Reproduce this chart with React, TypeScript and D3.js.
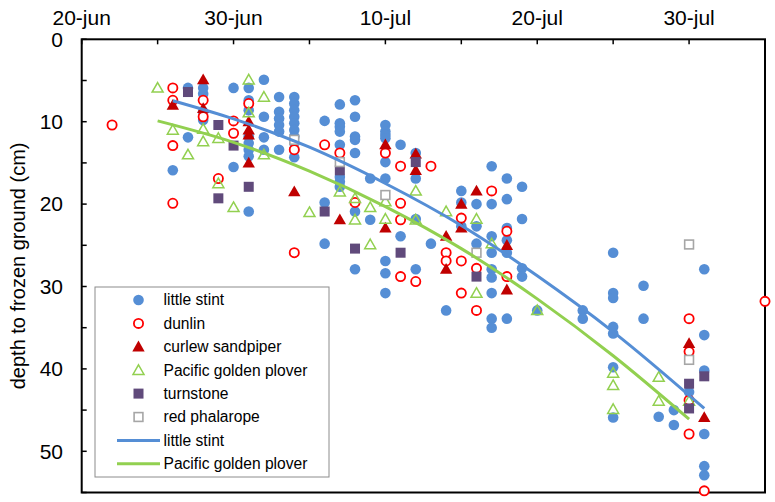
import React from 'react';
import * as d3 from 'd3';

const W = 775;
const H = 502;
const FONT = '"Liberation Sans", Arial, sans-serif';

// x domain (dates, day-month), y domain (cm)
const xDomain = ['06-20', '08-04'];
const yDomain = [0, 55];
const xMajorTicks = ['06-20', '06-30', '07-10', '07-20', '07-30'];
const xMinorStepDays = 5;
const yMajorTicks = [0, 10, 20, 30, 40, 50];
const yMinorStep = 5;

// [date, depths (cm)]
const littleStint: [string, number[]][] = [
  ['06-26', [15.9]],
  ['06-27', [5.9, 11.9]],
  ['06-28', [5.9, 6.6, 8.8, 9.8]],
  ['06-30', [5.9, 15.5]],
  ['07-01', [5.9, 7.4, 8.6, 11.8, 12.6, 13.4, 14.2, 20.9]],
  ['07-02', [4.9, 9.4, 11.9, 13.4]],
  ['07-03', [7.0, 8.8, 9.6, 10.4, 11.2, 13.4]],
  ['07-04', [7.0, 7.8, 8.6, 9.4, 10.2, 11.0, 11.8, 12.6, 13.4, 14.3]],
  ['07-06', [9.9, 19.8, 24.8]],
  ['07-07', [7.9, 10.2, 10.6, 11.2, 12.8, 16.7, 17.3, 17.9]],
  ['07-08', [7.4, 9.4, 11.8, 12.2, 13.8, 20.9, 27.9]],
  ['07-09', [16.9, 21.9]],
  ['07-10', [10.4, 11.2, 11.6, 12.0, 14.9, 16.9, 26.9, 28.4, 30.8]],
  ['07-11', [12.8, 23.9]],
  ['07-12', [13.8, 16.9, 21.8, 27.9]],
  ['07-13', [24.8]],
  ['07-14', [32.9]],
  ['07-15', [18.4, 19.8, 22.7]],
  ['07-16', [20.0, 22.7, 24.8]],
  ['07-17', [15.4, 20.0, 23.9, 25.9, 27.9, 28.9, 30.8, 33.9, 35.0]],
  ['07-18', [16.9, 19.4, 22.9, 24.4, 25.9, 33.9]],
  ['07-19', [17.9, 21.8, 27.8, 28.8]],
  ['07-20', [32.9]],
  ['07-23', [32.9, 33.9]],
  ['07-25', [25.9, 30.8, 31.4, 34.9, 35.7, 39.8, 45.9]],
  ['07-27', [29.9, 33.9]],
  ['07-28', [45.8]],
  ['07-29', [45.0, 46.8]],
  ['07-30', [42.8]],
  ['07-31', [27.9, 35.9, 40.2, 47.9, 51.8, 52.9]],
];

const dunlin: [string, number[]][] = [
  ['06-22', [10.4]],
  ['06-26', [5.9, 7.4, 12.9, 19.9]],
  ['06-28', [7.4, 9.4]],
  ['06-29', [16.9]],
  ['06-30', [9.9, 11.4]],
  ['07-01', [7.8]],
  ['07-04', [13.4, 25.9]],
  ['07-06', [12.8]],
  ['07-07', [13.8]],
  ['07-08', [19.8]],
  ['07-10', [13.8]],
  ['07-11', [15.4, 19.9, 21.9, 28.8]],
  ['07-12', [29.4]],
  ['07-13', [15.4]],
  ['07-14', [25.9, 26.9]],
  ['07-15', [21.7, 26.9, 30.8]],
  ['07-16', [27.8, 32.9]],
  ['07-17', [18.4]],
  ['07-18', [23.3, 28.8]],
  ['07-30', [33.9, 37.9, 43.8, 47.9]],
  ['07-31', [54.8]],
  ['08-04', [31.8]],
];

const curlewSandpiper: [string, number[]][] = [
  ['06-26', [8.0]],
  ['06-28', [4.9, 8.4]],
  ['07-01', [10.0, 11.0, 11.6, 15.0]],
  ['07-04', [18.5]],
  ['07-07', [21.9]],
  ['07-10', [12.8, 22.9]],
  ['07-12', [13.9, 15.9]],
  ['07-14', [23.9, 27.9]],
  ['07-15', [20.0, 22.9]],
  ['07-16', [18.4]],
  ['07-18', [25.0, 30.4]],
  ['07-30', [36.9]],
  ['07-31', [45.9]],
];

const pacificGoldenPlover: [string, number[]][] = [
  ['06-25', [5.9]],
  ['06-26', [11.0]],
  ['06-27', [14.0]],
  ['06-28', [10.9, 12.4]],
  ['06-29', [12.0, 17.5]],
  ['06-30', [20.4]],
  ['07-01', [4.9, 8.9]],
  ['07-02', [7.0, 14.0]],
  ['07-05', [21.0]],
  ['07-07', [18.5]],
  ['07-08', [19.3, 21.9]],
  ['07-09', [20.4, 24.9]],
  ['07-10', [19.7, 21.8]],
  ['07-12', [18.4, 21.9]],
  ['07-14', [20.9]],
  ['07-16', [21.8, 30.8]],
  ['07-17', [24.8]],
  ['07-20', [32.9]],
  ['07-25', [40.5, 42.0, 44.9]],
  ['07-28', [41.0, 43.9]],
  ['07-30', [43.9]],
];

const turnstone: [string, number[]][] = [
  ['06-27', [6.4]],
  ['06-29', [10.4, 19.3]],
  ['06-30', [12.9]],
  ['07-01', [17.9]],
  ['07-06', [20.9]],
  ['07-07', [15.9]],
  ['07-08', [25.4]],
  ['07-11', [25.9]],
  ['07-12', [14.9]],
  ['07-16', [28.8]],
  ['07-30', [41.8, 44.8]],
  ['07-31', [40.9]],
];

const redPhalarope: [string, number[]][] = [
  ['07-04', [12.2]],
  ['07-07', [14.9]],
  ['07-10', [18.9]],
  ['07-16', [25.9]],
  ['07-30', [24.9, 38.9]],
];

// fitted curves
const littleStintLine: [string, number][] = [
  ['06-26', 7.45], ['06-30', 9.65], ['07-05', 13.1], ['07-10', 17.5],
  ['07-15', 22.6], ['07-20', 28.7], ['07-25', 35.5], ['07-31', 44.8],
];
const ploverLine: [string, number][] = [
  ['06-25', 9.9], ['06-30', 12.5], ['07-05', 16.0], ['07-10', 20.3],
  ['07-15', 25.4], ['07-20', 31.5], ['07-25', 38.4], ['07-30', 46.1],
];

const seriesNames = [
  'little stint', 'dunlin', 'curlew sandpiper', 'Pacific golden plover',
  'turnstone', 'red phalarope', 'little stint', 'Pacific golden plover',
];

const BLUE = '#558ED5';
const RED = '#FF0000';
const DARKRED = '#C00000';
const GREEN = '#92D050';
const PURPLE = '#604A7B';
const GRAY = '#A6A6A6';

type Kind = 'circle' | 'ocircle' | 'tri' | 'otri' | 'square' | 'osquare' | 'line';

const parse = d3.timeParse('%Y-%m-%d');
const toDate = (s: string) => parse('2013-' + s) as Date;

const Marker = ({ kind, cx, cy, color }: { kind: Kind; cx: number; cy: number; color: string }) => {
  switch (kind) {
    case 'circle':
      return <circle cx={cx} cy={cy} r={5.3} fill={color} />;
    case 'ocircle':
      return <circle cx={cx} cy={cy} r={4.6} fill="white" stroke={color} strokeWidth={1.8} />;
    case 'tri':
      return <path d={`M${cx},${cy - 6.2}L${cx + 6.2},${cy + 4.6}L${cx - 6.2},${cy + 4.6}Z`} fill={color} />;
    case 'otri':
      return (
        <path d={`M${cx},${cy - 5.4}L${cx + 5.5},${cy + 4.2}L${cx - 5.5},${cy + 4.2}Z`} fill="none" stroke={color} strokeWidth={1.5} />
      );
    case 'square':
      return <rect x={cx - 5} y={cy - 5} width={10} height={10} fill={color} />;
    case 'osquare':
      return <rect x={cx - 4.4} y={cy - 4.4} width={8.8} height={8.8} fill="white" stroke={color} strokeWidth={1.6} />;
    default:
      return null;
  }
};

export default function App() {
  const left = 81.7, right = 765, top = 39.3, bottom = 492.5;
  const x = d3.scaleTime().domain(xDomain.map(toDate)).range([left, right]);
  const y = d3.scaleLinear().domain(yDomain).range([top, bottom]);

  const flatten = (data: [string, number[]][]) =>
    data.flatMap(([d, vals]) => vals.map((v) => ({ date: toDate(d), v })));

  const pointSeries: { data: [string, number[]][]; kind: Kind; color: string }[] = [
    { data: littleStint, kind: 'circle', color: BLUE },
    { data: dunlin, kind: 'ocircle', color: RED },
    { data: curlewSandpiper, kind: 'tri', color: DARKRED },
    { data: pacificGoldenPlover, kind: 'otri', color: GREEN },
    { data: turnstone, kind: 'square', color: PURPLE },
    { data: redPhalarope, kind: 'osquare', color: GRAY },
  ];

  const line = d3
    .line<[string, number]>()
    .x((d) => x(toDate(d[0])))
    .y((d) => y(d[1]))
    .curve(d3.curveMonotoneX);

  const start = toDate(xDomain[0]);
  const end = toDate(xDomain[1]);
  const nDays = d3.timeDay.count(start, end);
  const xTicks = d3.range(0, nDays + 1, xMinorStepDays).map((k) => d3.timeDay.offset(start, k));
  const yTicks = d3.range(yDomain[0], yDomain[1] + 0.01, yMinorStep);
  const fmt = (d: Date) => d3.timeFormat('%-d-%b')(d).toLowerCase();

  const legendKinds: { kind: Kind; color: string }[] = [
    { kind: 'circle', color: BLUE },
    { kind: 'ocircle', color: RED },
    { kind: 'tri', color: DARKRED },
    { kind: 'otri', color: GREEN },
    { kind: 'square', color: PURPLE },
    { kind: 'osquare', color: GRAY },
    { kind: 'line', color: BLUE },
    { kind: 'line', color: GREEN },
  ];

  const lgX = 95, lgY = 287, lgW = 234, lgH = 190, rowH = 23.4, row0 = 300;

  return (
    <svg
      width={W}
      height={H}
      style={{ position: 'absolute', left: 0, top: 0, background: 'white' }}
      fontFamily={FONT}
    >
      <rect x={0} y={0} width={W} height={H} fill="white" />
      {/* plot frame */}
      <rect x={left} y={top} width={right - left} height={bottom - top} fill="white" stroke="black" strokeWidth={2} />
      {/* x ticks (inward) */}
      {xTicks.map((t, i) => (
        <line key={'xt' + i} x1={x(t)} x2={x(t)} y1={top} y2={top + 5} stroke="black" strokeWidth={1.5} />
      ))}
      {xMajorTicks.map((s) => (
        <text key={'xl' + s} x={x(toDate(s))} y={25} textAnchor="middle" fontSize={21} fill="black">
          {fmt(toDate(s))}
        </text>
      ))}
      {/* y ticks (inward) */}
      {yTicks.map((t, i) => (
        <line key={'yt' + i} x1={left} x2={left + 5} y1={y(t)} y2={y(t)} stroke="black" strokeWidth={1.5} />
      ))}
      {yMajorTicks.map((t) => (
        <text key={'yl' + t} x={63} y={y(t)} dy="0.35em" textAnchor="end" fontSize={21} fill="black">
          {t}
        </text>
      ))}
      <text
        transform={`translate(18,${(top + bottom) / 2}) rotate(-90)`}
        textAnchor="middle"
        dy="0.35em"
        fontSize={20}
        fill="black"
      >
        depth to frozen ground (cm)
      </text>

      {/* legend (drawn under markers, as in original) */}
      <rect x={lgX} y={lgY} width={lgW} height={lgH} fill="white" stroke="#8C8C8C" strokeWidth={1} />
      {legendKinds.map((k, i) => {
        const cy = row0 + i * rowH;
        return (
          <g key={'lg' + i}>
            {k.kind === 'line' ? (
              <line x1={117} x2={160} y1={cy} y2={cy} stroke={k.color} strokeWidth={3} />
            ) : (
              <Marker kind={k.kind} cx={138.5} cy={cy} color={k.color} />
            )}
            <text x={163.5} y={cy} dy="0.35em" fontSize={15.6} fill="black">
              {seriesNames[i]}
            </text>
          </g>
        );
      })}

      {/* points */}
      {pointSeries.map((s, si) => (
        <g key={'s' + si}>
          {flatten(s.data).map((p, i) => (
            <Marker key={i} kind={s.kind} cx={x(p.date)} cy={y(p.v)} color={s.color} />
          ))}
        </g>
      ))}

      {/* fitted lines */}
      <path d={line(littleStintLine) || ''} fill="none" stroke={BLUE} strokeWidth={3} />
      <path d={line(ploverLine) || ''} fill="none" stroke={GREEN} strokeWidth={3} />
    </svg>
  );
}
